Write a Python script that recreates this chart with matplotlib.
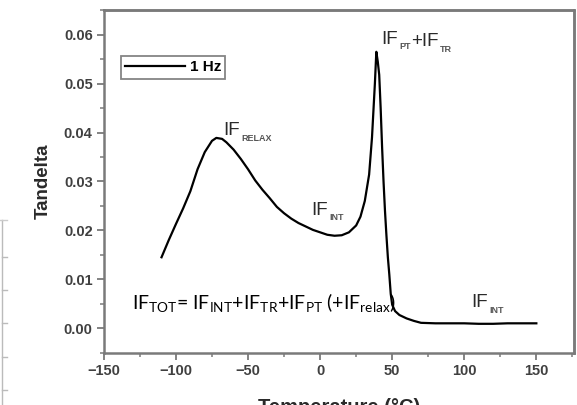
import matplotlib
matplotlib.use("Agg")
import matplotlib.pyplot as plt
from matplotlib.lines import Line2D
from matplotlib.ticker import MultipleLocator

plt.rcParams["mathtext.fontset"] = "custom"
plt.rcParams["mathtext.rm"] = "Lato"
plt.rcParams["mathtext.it"] = "Lato:italic"
plt.rcParams["mathtext.bf"] = "Lato:bold"

# tan delta vs temperature, 1 Hz
temperature = [-110, -105, -100, -95, -90, -85, -80, -75, -72, -68, -65, -60, -55, -50,
               -45, -40, -35, -30, -25, -20, -15, -10, -5, 0, 5, 10, 15, 20, 25, 28,
               31, 34, 36, 38, 39, 40, 41, 42, 43, 44, 45, 46, 47, 48, 49, 50, 52,
               55, 60, 65, 70, 80, 90, 100, 110, 120, 130, 140, 150]
tandelta = [0.0145, 0.0180, 0.0213, 0.0245, 0.0280, 0.0325, 0.0360, 0.0383, 0.0389,
            0.0387, 0.0380, 0.0365, 0.0346, 0.0325, 0.0302, 0.0283, 0.0266, 0.0248,
            0.0235, 0.0224, 0.0215, 0.0208, 0.0201, 0.0196, 0.0191, 0.0189, 0.0190,
            0.0196, 0.0210, 0.0228, 0.0260, 0.0314, 0.0390, 0.0500, 0.0565, 0.0545,
            0.0518, 0.0450, 0.0370, 0.0300, 0.0240, 0.0190, 0.0145, 0.0110, 0.0070,
            0.0048, 0.0035, 0.0027, 0.0020, 0.0015, 0.0011, 0.0010, 0.0010, 0.0010,
            0.0009, 0.0009, 0.0010, 0.0010, 0.0010]
series_label = "1 Hz"

xticks = [-150, -100, -50, 0, 50, 100, 150]
yticks = [0.00, 0.01, 0.02, 0.03, 0.04, 0.05, 0.06]

# peak labels: (x, y, main, sub)
peak_labels = [(-67, 0.0394, "IF", "RELAX"),
               (-6, 0.0232, "IF", "INT"),
               (105, 0.0043, "IF", "INT")]

formula = (r"$\mathrm{IF_{TOT}}$= $\mathrm{IF_{INT}}$+$\mathrm{IF_{TR}}$"
           r"+$\mathrm{IF_{PT}}$ (+$\mathrm{IF_{relax}}$)")

fig = plt.figure(figsize=(5.77, 4.05), dpi=100)
ax = fig.add_axes([0.180, 0.128, 0.8145, 0.848])

ax.plot(temperature, tandelta, color="black", lw=1.6, label=series_label)

ax.set_xlim(-150, 176)
ax.set_ylim(-0.0051, 0.0651)
ax.set_xticks(xticks)
ax.set_yticks(yticks)
ax.set_yticklabels([f"{v:.2f}" for v in yticks])
ax.xaxis.set_minor_locator(MultipleLocator(25))
ax.yaxis.set_minor_locator(MultipleLocator(0.005))

spine_col = "#7a7a7a"
for s in ax.spines.values():
    s.set_color(spine_col)
    s.set_linewidth(1.8)
# top and right frame edges drawn explicitly as well
ax.plot([0, 1, 1], [1, 1, 0], transform=ax.transAxes, color=spine_col, lw=1.8,
        clip_on=False, zorder=6)
ax.tick_params(which="major", direction="out", length=5, width=1.3, color=spine_col,
               labelsize=10.5, labelcolor="#404040", top=False, right=False, pad=3)
ax.tick_params(which="minor", direction="out", length=3, width=1.1, color=spine_col,
               top=False, right=False)
for lab in ax.get_xticklabels() + ax.get_yticklabels():
    lab.set_family("Liberation Sans")
    lab.set_fontweight("bold")

ax.set_ylabel("Tandelta", family="Liberation Sans", fontweight="bold", fontsize=13.5,
              color="#2a2a2a", labelpad=9)
ax.set_xlabel("Temperature (\u00b0C)", family="Liberation Sans", fontweight="bold",
              fontsize=14.5, color="#2a2a2a", labelpad=14)

leg = ax.legend(loc="upper left", bbox_to_anchor=(0.036, 0.866), frameon=True,
                fancybox=False, handlelength=3.9, handletextpad=0.3, borderpad=0.3,
                borderaxespad=0,
                prop={"family": "Liberation Sans", "weight": "bold", "size": 11})
leg.get_frame().set_edgecolor("#666666")
leg.get_frame().set_linewidth(1.3)


def sub_label(x, y, main, sub):
    t = ax.text(x, y, main, family="Liberation Sans", fontsize=13.5, color="#2a2a2a",
                ha="left", va="baseline")
    a = ax.annotate(sub, xy=(1, 0), xycoords=t, xytext=(1, -1),
                    textcoords="offset points", family="Liberation Sans",
                    fontsize=6.5, fontweight="bold", color="#555555",
                    ha="left", va="baseline")
    return a


for x, y, m, s in peak_labels:
    sub_label(x, y, m, s)

# IF_PT + IF_TR at the sharp peak
a1 = sub_label(42.5, 0.0581, "IF", "PT")
t2 = ax.annotate("+IF", xy=(1, 0), xycoords=a1, xytext=(0, 3.5),
                 textcoords="offset points", family="Liberation Sans", fontsize=13.5,
                 color="#2a2a2a", ha="left", va="baseline")
ax.annotate("TR", xy=(1, 0), xycoords=t2, xytext=(1, -1), textcoords="offset points",
            family="Liberation Sans", fontsize=6.5, fontweight="bold", color="#555555",
            ha="left", va="baseline")

# total internal friction formula
ax.text(-130.5, 0.0040, formula, family="Lato", fontsize=14, ha="left",
        va="baseline", color="black")

# page-crop remnants at the left edge
fig.add_artist(Line2D([0.004, 0.004], [0.0, 0.457], color="#bbbbbb", lw=1))
fig.add_artist(Line2D([0.0, 0.012], [0.457, 0.457], color="#cccccc", lw=1))
for yy in [0.365, 0.284, 0.202, 0.119, 0.037]:
    fig.add_artist(Line2D([0.004, 0.012], [yy, yy], color="#bbbbbb", lw=1))

fig.savefig("out.png", dpi=100)
